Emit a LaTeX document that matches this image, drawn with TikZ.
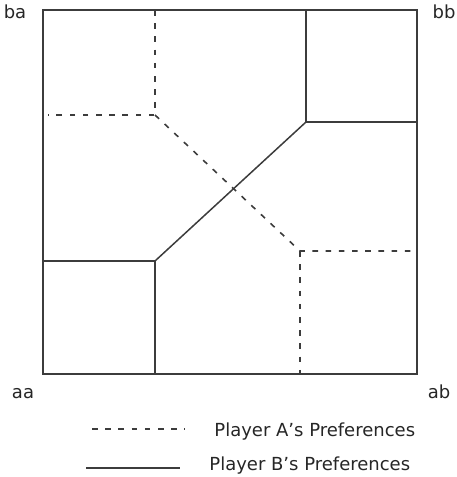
\documentclass[tikz,border=0pt]{standalone}
\usepackage{fontspec}
\setmainfont{DejaVu Sans}
\usepackage{tikz}
\usetikzlibrary{positioning}
\usepackage{xcolor}
\definecolor{inkgray}{HTML}{3C3C3C}

\begin{document}
\begin{tikzpicture}[x=0.5pt, y=-0.5pt,
  boxline/.style={draw=inkgray, line width=0.9pt},
  prefB/.style={draw=inkgray, line width=0.75pt},
  prefA/.style={draw=inkgray, line width=0.8pt, dash pattern=on 2.8pt off 3.8pt},
  cornerlbl/.style={font=\fontsize{9}{11}\selectfont, text=black!85, anchor=base},
  keylbl/.style={font=\fontsize{9}{11}\selectfont, text=black!85, anchor=base west, inner sep=0pt}]

  \useasboundingbox (0,0) rectangle (456,477);

  % Corners of the outcome square
  \coordinate (BA) at (43,10);
  \coordinate (BB) at (417,10);
  \coordinate (AA) at (43,374);
  \coordinate (AB) at (417,374);

  % Outer square
  \draw[boxline] (BA) rectangle (AB);

  % Player B's preferences (solid)
  \draw[prefB] (43,261) -- (155,261) -- (155,374);
  \draw[prefB] (306,10) -- (306,122) -- (417,122);
  \draw[prefB] (155,261) -- (306,122);

  % Player A's preferences (dashed)
  \draw[prefA] (155,10) -- (155,115) -- (48,115);
  \draw[prefA] (155,115) -- (300,251) -- (416,251);
  \draw[prefA] (300,251) -- (300,374);

  % Corner labels
  \node[cornerlbl] (lblba) at (15,18.5) {ba};
  \node[cornerlbl] (lblbb) at (444,18.5) {bb};
  \node[cornerlbl] (lblaa) at (23,398) {aa};
  \node[cornerlbl] (lblab) at (439,398) {ab};

  % Legend
  \node[keylbl] (keyA) at (214,436) {Player A’s Preferences};
  \node[keylbl] (keyB) at (209,470) {Player B’s Preferences};
  \coordinate (keyAs) at (92,429);
  \coordinate (keyAe) at (185,429);
  \coordinate (keyBs) at (86,468);
  \coordinate (keyBe) at (180,468);
  \draw[prefA] (keyAs) -- (keyAe);
  \draw[prefB] (keyBs) -- (keyBe);

\end{tikzpicture}
\end{document}
